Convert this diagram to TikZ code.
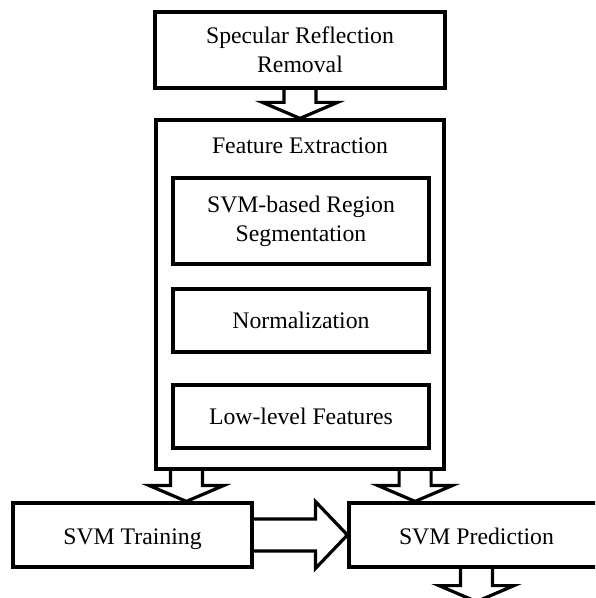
\documentclass[tikz,border=0pt]{standalone}
\usepackage{fontspec}
\setmainfont{Liberation Serif}
\usetikzlibrary{positioning,calc}

% block arrows between boxes (start on one border, tip on the other)
\newcommand{\blockdown}[2]{%
  \draw[blk] ($(#1)+(-16,0)$) -- ($(#2)+(-16,-16)$) -- ($(#2)+(-37.5,-16)$) -- (#2)
    -- ($(#2)+(37.5,-16)$) -- ($(#2)+(16,-16)$) -- ($(#1)+(16,0)$);}
\newcommand{\blockright}[2]{%
  \draw[blk] ($(#1)+(0,-16)$) -- ($(#2)+(-32,-16)$) -- ($(#2)+(-32,-33.5)$) -- (#2)
    -- ($(#2)+(-32,33.5)$) -- ($(#2)+(-32,16)$) -- ($(#1)+(0,16)$);}

\begin{document}
\begin{tikzpicture}[x=0.75pt,y=-0.75pt,
    box/.style={draw, line width=2.4pt, align=center, inner sep=0pt,
      font=\fontsize{17.8}{22}\selectfont},
    blk/.style={draw, line width=2.4pt, line join=miter}]
    \useasboundingbox (0,0) rectangle (595,598);
    \clip (0,0) rectangle (595,598);

    \node[box, minimum width=217.5pt, minimum height=57pt] (srr) at (300,50) {Specular Reflection\\Removal};
    \node[box, minimum width=216pt, minimum height=261.75pt] (fe) at (300,294.5) {};
    \node[font=\fontsize{17.8}{22}\selectfont] (fetitle) at (300,146) {Feature Extraction};
    \node[box, minimum width=192pt, minimum height=64.5pt] (seg) at (301,221) {SVM-based Region\\Segmentation};
    \node[box, minimum width=192pt, minimum height=47.25pt] (norm) at (301,320.5) {Normalization};
    \node[box, minimum width=192pt, minimum height=47.25pt] (low) at (301,416.5) {Low-level Features};

    \node[box, minimum width=179.25pt, minimum height=48pt, text height=17pt, text depth=3.5pt] (train) at (132.5,535) {SVM Training};
    \node[box, minimum width=191.25pt, minimum height=48pt, text height=17pt, text depth=3.5pt] (pred) at (476.5,535) {SVM Prediction};

    \coordinate (l1) at ($(fe.south west)+(32,0)$);
    \coordinate (r1) at ($(fe.south east)+(-30.5,0)$);
    \coordinate (out) at ($(pred.south)+(0,33)$);

    \blockdown{srr.south}{fe.north}
    \blockdown{l1}{l1 |- train.north}
    \blockdown{r1}{r1 |- pred.north}
    \blockright{train.east}{pred.west}
    \blockdown{pred.south}{out}
\end{tikzpicture}
\end{document}
